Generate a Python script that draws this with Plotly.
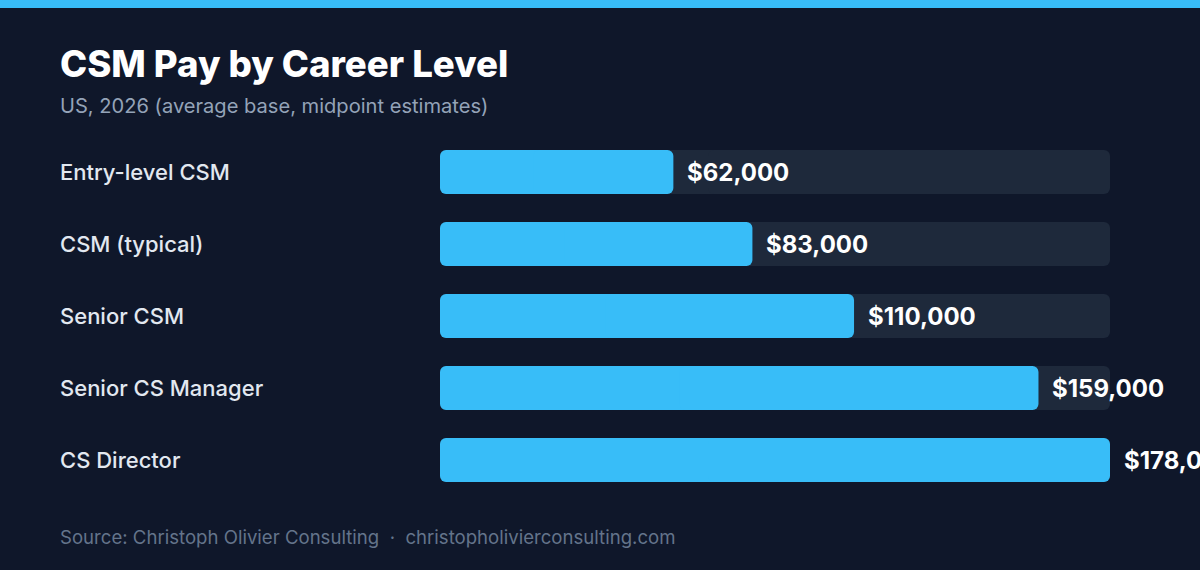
import plotly.graph_objects as go

levels = ["Entry-level CSM", "CSM (typical)", "Senior CSM", "Senior CS Manager", "CS Director"]
pay = [62000, 83000, 110000, 159000, 178000]
max_pay = max(pay)

BG = "#0f172a"
ACCENT = "#38bdf8"
TRACK = "#1e293b"
FONT = "Inter"

W, H = 1200, 570
ML, MR, MT, MB = 440, 90, 136, 74
plot_w = W - ML - MR
plot_h = H - MT - MB
BW = 0.611


def rounded_bar(values, color, hover=True):
    # two overlapping halves so both ends get rounded corners
    right = go.Bar(
        x=[v * 0.6 for v in values], base=[v * 0.4 for v in values], y=levels,
        orientation="h", marker=dict(color=color, line=dict(width=0)), width=BW,
        showlegend=False, hoverinfo="skip" if not hover else None,
    )
    left = go.Bar(
        x=[-v * 0.6 for v in values], base=[v * 0.6 for v in values], y=levels,
        orientation="h", marker=dict(color=color, line=dict(width=0)), width=BW,
        showlegend=False, hoverinfo="skip",
    )
    return [left, right]


fig = go.Figure()
for t in rounded_bar([max_pay] * len(levels), TRACK, hover=False):
    fig.add_trace(t)
for t in rounded_bar(pay, ACCENT):
    fig.add_trace(t)

ann = []
for lvl, v in zip(levels, pay):
    ann.append(dict(x=v, y=lvl, xref="x", yref="y", text=f"${v:,.0f}",
                    xanchor="left", yanchor="middle", xshift=12, showarrow=False,
                    font=dict(family=FONT, size=24, color="#ffffff", weight=700)))
    ann.append(dict(x=(60 - ML) / plot_w, y=lvl, xref="paper", yref="y", text=lvl,
                    xanchor="left", yanchor="middle", showarrow=False, xshift=-2,
                    font=dict(family=FONT, size=22, color="#e2e8f0", weight=500)))


def py(px):
    return 1 - (px - MT) / plot_h


def pxx(px):
    return (px - ML) / plot_w


ann.append(dict(x=pxx(58), y=py(64), xref="paper", yref="paper",
                text="CSM Pay by Career Level", xanchor="left", yanchor="middle",
                showarrow=False, font=dict(family=FONT, size=36.6, color="#ffffff", weight=800)))
ann.append(dict(x=pxx(58), y=py(106), xref="paper", yref="paper",
                text="US, 2026 (average base, midpoint estimates)", xanchor="left", yanchor="middle",
                showarrow=False, font=dict(family=FONT, size=20.1, color="#94a3b8")))
ann.append(dict(x=pxx(58), y=py(537), xref="paper", yref="paper",
                text="Source: Christoph Olivier Consulting  ·  christopholivierconsulting.com",
                xanchor="left", yanchor="middle",
                showarrow=False, font=dict(family=FONT, size=18.6, color="#64748b")))

fig.add_shape(type="rect", xref="paper", yref="paper",
              x0=pxx(-10), x1=pxx(W + 10), y0=py(8), y1=py(-10),
              fillcolor=ACCENT, line=dict(width=0), layer="above")

fig.update_layout(
    width=W, height=H,
    margin=dict(l=ML, r=MR, t=MT, b=MB),
    paper_bgcolor=BG, plot_bgcolor=BG,
    barmode="overlay", barcornerradius=6,
    xaxis=dict(range=[0, max_pay], visible=False, fixedrange=True),
    yaxis=dict(autorange="reversed", visible=False, fixedrange=True,
               categoryorder="array", categoryarray=levels),
    annotations=ann,
    font=dict(family=FONT),
)

fig.write_html(
    "out.html",
    config={"displayModeBar": False},
    post_script="document.body.style.margin='0';document.body.style.overflow='hidden';",
)
